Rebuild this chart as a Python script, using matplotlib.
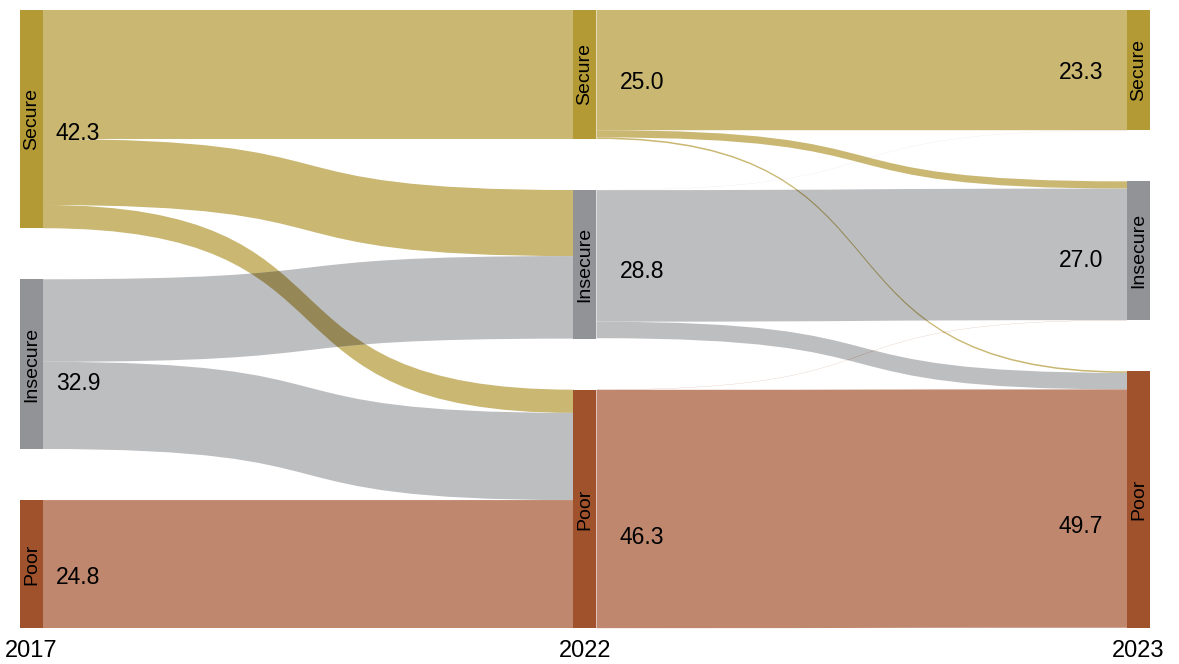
import numpy as np
import matplotlib.pyplot as plt
from matplotlib.path import Path
from matplotlib.patches import PathPatch, Rectangle
from matplotlib import colors as mcolors

years = ['2017', '2022', '2023']
groups = ['Secure', 'Insecure', 'Poor']
# printed shares (%) per year and group
shares = [[42.3, 32.9, 24.8],
          [25.0, 28.8, 46.3],
          [23.3, 27.0, 49.7]]
# transitions, rows = from, cols = to
flows_17_22 = [[25.0, 12.8, 4.5],
               [0.0, 16.0, 16.9],
               [0.0, 0.0, 24.8]]
flows_22_23 = [[23.3, 1.4, 0.3],
               [0.02, 25.5, 3.2],
               [0.0, 0.03, 46.2]]

node_colors = ['#b39a35', '#929397', '#a0522d']
flow_colors = ['#c9b772', '#bdbec0', '#bf876e']

W, H = 1179, 664
fig = plt.figure(figsize=(W / 100, H / 100), dpi=100)
ax = fig.add_axes([0, 0, 1, 1])
ax.axis('off')

gap = 9.9
span = 100 + 2 * gap
k = span / 618.0          # data units per pixel (vertical)
colw = 553.5              # pixels between column centres
ax.set_xlim(-31.5 / colw, 2 + (W - 1138.5) / colw)
ax.set_ylim(span + (H - 628) * k, -10 * k)
nw = 23 / colw            # node width
curv = 0.63               # control point position along the ribbon

fa = np.array(flows_17_22)
fb = np.array(flows_22_23)
heights = [fa.sum(axis=1),
           np.maximum(fa.sum(axis=0), fb.sum(axis=1)),
           fb.sum(axis=0)]
tops = []
for h in heights:
    t = np.concatenate([[0], np.cumsum(h[:-1] + gap)])
    tops.append(t)


def multiply(c1, c2):
    a = np.array(mcolors.to_rgb(c1))
    b = np.array(mcolors.to_rgb(c2))
    return tuple(a * b)


def draw_segment(c, f):
    x0 = c + nw / 2
    x1 = c + 1 - nw / 2
    xa = x0 + curv * (x1 - x0)
    xb = x1 - curv * (x1 - x0)
    out_off = tops[c].copy()
    in_off = tops[c + 1].copy()
    patches = []
    for s in range(3):
        for t in range(3):
            v = f[s, t]
            if v <= 0:
                continue
            ys0, ys1 = out_off[s], out_off[s] + v
            yt0, yt1 = in_off[t], in_off[t] + v
            out_off[s] += v
            in_off[t] += v
            verts = [(x0, ys0), (xa, ys0), (xb, yt0), (x1, yt0),
                     (x1, yt1), (xb, yt1), (xa, ys1), (x0, ys1), (x0, ys0)]
            codes = [Path.MOVETO, Path.CURVE4, Path.CURVE4, Path.CURVE4,
                     Path.LINETO, Path.CURVE4, Path.CURVE4, Path.CURVE4,
                     Path.CLOSEPOLY]
            path = Path(verts, codes)
            p = PathPatch(path, facecolor=flow_colors[s], lw=0, zorder=1)
            ax.add_patch(p)
            patches.append((s, t, path, p))
    # crossing ribbons look multiplied
    for i, (si, ti, pth, _) in enumerate(patches):
        for sj, tj, _, pj in patches[:i]:
            if si == sj or ti == tj:
                continue
            q = PathPatch(pth, facecolor=multiply(flow_colors[si], flow_colors[sj]),
                          lw=0, zorder=2)
            ax.add_patch(q)
            q.set_clip_path(pj)


draw_segment(0, fa)
draw_segment(1, fb)

lab_font = ['Liberation Sans', 'DejaVu Sans']
dy_px = [[14, 19, 13], [8, 7, 29], [2, 10, 27]]
val_x = [(56 - 31.5) / colw, 1 + (620 - 585.5) / colw, 2 + (1103 - 1138.5) / colw]
val_ha = ['left', 'left', 'right']
for c in range(3):
    for g in range(3):
        y0 = tops[c][g]
        h = heights[c][g]
        ax.add_patch(Rectangle((c - nw / 2, y0), nw, h, facecolor=node_colors[g],
                               lw=0, zorder=3))
        ax.text(c, y0 + h / 2, groups[g], rotation=90, ha='center', va='center',
                fontsize=14, family=lab_font, zorder=4)
        ax.text(val_x[c], y0 + h / 2 + dy_px[c][g] * k, f'{shares[c][g]:.1f}',
                ha=val_ha[c], va='center', fontsize=16.5, family=lab_font, zorder=4)
    ax.text(c, (651 - 10) * k, years[c], ha='center', va='center', fontsize=17,
            family=lab_font)

fig.savefig('out.png', dpi=100)
